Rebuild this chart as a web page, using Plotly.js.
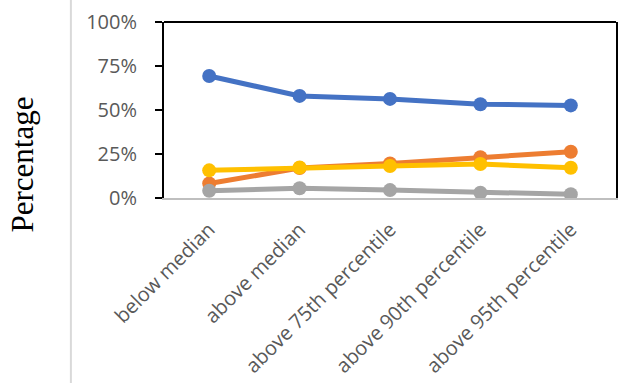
<!DOCTYPE html>
<html>
<head>
<meta charset="utf-8">
<script src="https://cdn.plot.ly/plotly-3.0.1.min.js"></script>
<style>
  html, body { margin: 0; padding: 0; background: #fff; }
  #chart { width: 620px; height: 383px; }
</style>
</head>
<body>
<div id="chart"></div>
<script>
// Income groups along the x axis
const categories = [
  'below median',
  'above median',
  'above 75th percentile',
  'above 90th percentile',
  'above 95th percentile'
];

// Shares (in %) for each of the four series
const series1 = [69.3, 58.0, 56.3, 53.3, 52.6];
const series2 = [8.2, 17.0, 19.6, 23.2, 26.3];
const series3 = [4.1, 5.5, 4.5, 3.0, 2.1];
const series4 = [15.7, 17.3, 18.2, 19.3, 17.2];

const yTicks = [0, 25, 50, 75, 100];

const palette = ['#4472C4', '#ED7D31', '#A5A5A5', '#FFC000'];
const allSeries = [series1, series2, series3, series4];

const traces = allSeries.map((vals, i) => ({
  type: 'scatter',
  mode: 'lines+markers',
  x: categories,
  y: vals,
  name: 'Series ' + (i + 1),
  line: { color: palette[i], width: 5 },
  marker: { color: palette[i], size: 14 },
  hoverinfo: 'skip'
}));

const layout = {
  width: 620,
  height: 383,
  margin: { l: 163.5, r: 3.5, t: 22, b: 185 },
  paper_bgcolor: '#ffffff',
  plot_bgcolor: '#ffffff',
  showlegend: false,
  font: { family: '"Open Sans", sans-serif', color: '#595959' },
  xaxis: {
    type: 'category',
    range: [-0.5, 4.5],
    showgrid: false,
    zeroline: false,
    showline: true,
    linecolor: '#BFBFBF',
    linewidth: 2,
    ticks: '',
    tickangle: -45,
    ticklabelstandoff: 10,
    tickfont: { size: 20, color: '#595959' },
    automargin: false
  },
  yaxis: {
    range: [0, 100],
    tickvals: yTicks,
    ticktext: yTicks.map(v => v + '%'),
    showgrid: false,
    zeroline: false,
    showline: true,
    mirror: true,
    linecolor: '#000000',
    linewidth: 2,
    ticks: 'outside',
    ticklen: 7,
    tickwidth: 2,
    tickcolor: '#000000',
    ticklabelstandoff: 14,
    tickfont: { size: 20, color: '#595959' },
    automargin: false
  },
  shapes: [
    // top frame edge
    { type: 'line', xref: 'paper', yref: 'paper', x0: 0, x1: 1, y0: 1, y1: 1,
      line: { color: '#000000', width: 2 } },
    // thin separator at the far left
    { type: 'line', xref: 'paper', yref: 'paper', x0: -0.206, x1: -0.206, y0: -1.2, y1: 1.3,
      line: { color: '#D9D9D9', width: 2 } }
  ],
  annotations: [
    {
      text: 'Percentage',
      xref: 'paper', yref: 'paper',
      x: -0.312, y: 0.19,
      xanchor: 'center', yanchor: 'middle',
      textangle: -90,
      showarrow: false,
      font: { family: '"Liberation Serif", "Times New Roman", serif', size: 31, color: '#000000' }
    }
  ]
};

Plotly.newPlot('chart', traces, layout, { displayModeBar: false, staticPlot: true });
</script>
</body>
</html>
